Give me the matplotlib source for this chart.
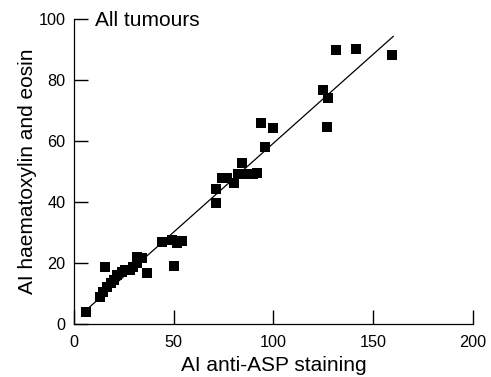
import matplotlib
matplotlib.use("Agg")
import matplotlib.pyplot as plt
import numpy as np

plt.rcParams['font.family'] = ['Liberation Sans', 'DejaVu Sans']

# ---- Data ----
asp = [6, 13, 14.5, 15.5, 16.5, 18.5, 20, 21.5, 24, 25.5, 28, 29.5, 31.5, 31.5, 34, 36.5,
       44, 49, 50, 51.6, 54,
       71, 71, 74, 76.5, 80.3, 82.4, 84.5, 84.2, 89.6, 91.9, 95.9, 93.6, 99.9,
       124.6, 127.5, 127, 131.3, 141.2, 159.5]
he = [3.9, 8.9, 10.5, 18.7, 12.1, 13.4, 14.4, 16, 17, 17.7, 17.7, 18.7, 20, 22, 21.6, 16.7,
      26.9, 27.5, 19, 26.5, 27.2,
      39.6, 44.2, 48, 48, 46.1, 49.2, 49.2, 52.7, 49.1, 49.6, 58.1, 65.8, 64.2,
      76.7, 74.2, 64.7, 89.8, 90.2, 88.2]

fit_slope = 0.583
fit_intercept = 1.0
fit_range = [6, 160]

xticks = [0, 50, 100, 150, 200]
yticks = [0, 20, 40, 60, 80, 100]

# ---- Plot ----
fig = plt.figure(figsize=(4.91, 3.77), dpi=100)
ax = fig.add_axes([0.1507, 0.1406, 0.8126, 0.809])

ax.scatter(asp, he, marker='s', s=42, color='black', linewidths=0, zorder=3)
fx = np.array(fit_range)
ax.plot(fx, fit_slope * fx + fit_intercept, color='black', lw=0.9, zorder=2)

ax.set_xlim(0, 200)
ax.set_ylim(0, 100)
ax.set_xticks(xticks)
ax.set_yticks(yticks)
ax.spines['top'].set_visible(False)
ax.spines['right'].set_visible(False)
for s in ['left', 'bottom']:
    ax.spines[s].set_linewidth(0.9)
ax.tick_params(direction='in', length=10, width=1.0, color='black', labelsize=11.7)
ax.tick_params(axis='x', pad=8)
ax.tick_params(axis='y', pad=6)

ax.set_xlabel("AI anti-ASP staining", fontsize=15, labelpad=4)
ax.set_ylabel("AI haematoxylin and eosin", fontsize=15, labelpad=1.5)
ax.text(10.5, 99.5, "All tumours", fontsize=15, va='center', ha='left')

fig.savefig("out.png", dpi=100)
